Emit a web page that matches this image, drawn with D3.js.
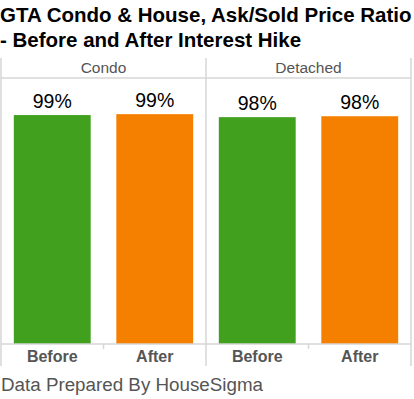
<!DOCTYPE html>
<html>
<head>
<meta charset="utf-8">
<script src="https://cdn.jsdelivr.net/npm/d3@7"></script>
<style>
  body { margin: 0; background: #fff; }
  svg { display: block; font-family: "Liberation Sans", Arial, sans-serif; }
</style>
</head>
<body>
<svg id="chart"></svg>
<script>
// facets and bars
const facets = ["Condo", "Detached"];
const periods = ["Before", "After"];
const condoValues = [0.988, 0.992];
const detachedValues = [0.979, 0.983];
const periodColors = ["#41a11e", "#f58000"];
const titleLines = ["GTA Condo & House, Ask/Sold Price Ratio", "- Before and After Interest Hike"];
const footer = "Data Prepared By HouseSigma";

const rows = [];
facets.forEach((f, i) => {
  const vals = i === 0 ? condoValues : detachedValues;
  periods.forEach((p, j) => rows.push({ facet: f, period: p, value: vals[j] }));
});

const width = 414, height = 399;
const svg = d3.select("#chart").attr("width", width).attr("height", height);

const panelTop = 58, headerBottom = 78, baseY = 344, panelBottom = 366;
const grid = "#d6d6d6";

const fx = d3.scaleBand().domain(facets).range([1, 411]);
const x = d3.scaleBand().domain(periods).range([0, fx.bandwidth()]).paddingInner(0.25).paddingOuter(0.125);
const y = d3.scaleLinear().domain([0, 1.148]).range([baseY, headerBottom]);
const color = d3.scaleOrdinal().domain(periods).range(periodColors);

// title
svg.append("g").selectAll("text").data(titleLines).join("text")
  .attr("x", 0).attr("y", (d, i) => 22 + i * 25)
  .attr("font-size", 20.5).attr("font-weight", "bold").attr("fill", "#000")
  .text(d => d);

// frame lines
const frame = svg.append("g").attr("stroke", grid).attr("stroke-width", 1.5);
fx.domain().concat([null]).forEach((f, i) => {
  const xx = f == null ? fx.range()[1] : fx(f);
  frame.append("line").attr("x1", xx).attr("x2", xx).attr("y1", panelTop).attr("y2", panelBottom);
});
frame.append("line").attr("x1", fx.range()[0]).attr("x2", fx.range()[1]).attr("y1", headerBottom).attr("y2", headerBottom);

const panel = svg.selectAll("g.panel").data(facets).join("g")
  .attr("class", "panel")
  .attr("transform", d => `translate(${fx(d)},0)`);

panel.append("text")
  .attr("x", fx.bandwidth() / 2).attr("y", 73)
  .attr("text-anchor", "middle").attr("font-size", 15.5).attr("fill", "#555")
  .text(d => d);

panel.selectAll("rect").data(f => rows.filter(r => r.facet === f)).join("rect")
  .attr("x", d => x(d.period)).attr("width", x.bandwidth())
  .attr("y", d => y(d.value)).attr("height", d => y(0) - y(d.value))
  .attr("fill", d => color(d.period));

panel.selectAll("text.val").data(f => rows.filter(r => r.facet === f)).join("text")
  .attr("class", "val")
  .attr("x", d => x(d.period) + x.bandwidth() / 2).attr("y", d => y(d.value) - 7)
  .attr("text-anchor", "middle").attr("font-size", 19.5).attr("fill", "#000")
  .text(d => d3.format(".0%")(d.value));

// x axis per panel
panel.append("g")
  .attr("transform", `translate(0,${baseY})`)
  .each(function () {
    const g = d3.select(this);
    g.append("line").attr("x1", 0).attr("x2", fx.bandwidth()).attr("stroke", grid).attr("stroke-width", 1.5);
    g.append("line").attr("x1", fx.bandwidth() / 2).attr("x2", fx.bandwidth() / 2)
      .attr("y1", 0).attr("y2", 5).attr("stroke", grid).attr("stroke-width", 1.5);
    g.selectAll("text").data(periods).join("text")
      .attr("x", d => x(d) + x.bandwidth() / 2).attr("y", 18)
      .attr("text-anchor", "middle").attr("font-size", 16).attr("font-weight", "bold").attr("fill", "#555")
      .text(d => d);
  });

svg.append("text").attr("x", 1).attr("y", 391)
  .attr("font-size", 18.8).attr("fill", "#555").text(footer);
</script>
</body>
</html>
